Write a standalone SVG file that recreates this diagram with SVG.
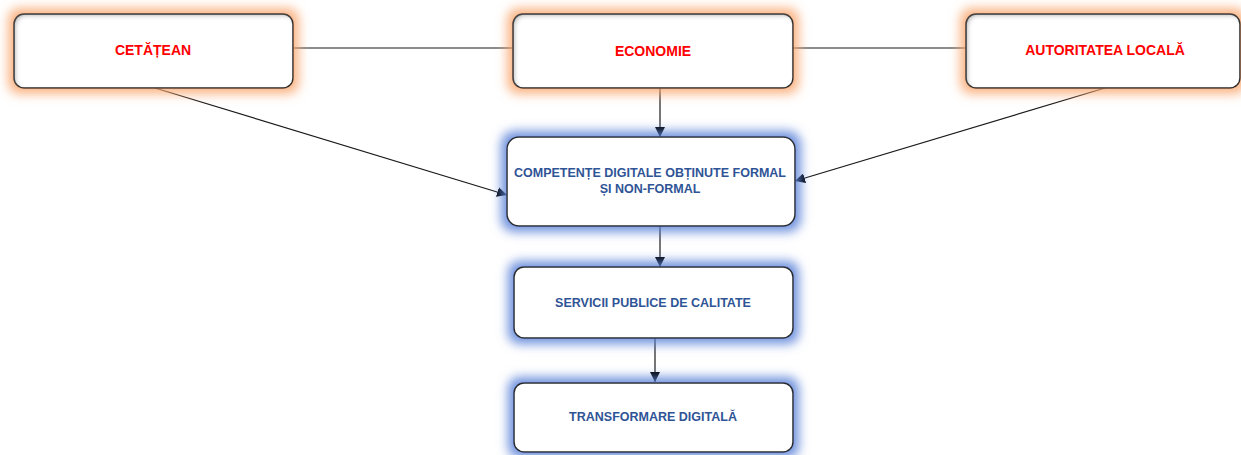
<svg xmlns="http://www.w3.org/2000/svg" width="1241" height="455" viewBox="0 0 1241 455">
  <style>
    .box { fill: #ffffff; stroke: #2b2b2b; stroke-width: 1.5; }
    .top { filter: url(#glowOrange); }
    .low { filter: url(#glowBlue); }
    .red { font-family: "Liberation Sans", Arial, sans-serif; font-weight: bold; font-size: 14px; fill: #ff0000; text-anchor: middle; }
    .blue { font-family: "Liberation Sans", Arial, sans-serif; font-weight: bold; font-size: 12.5px; fill: #2f5496; text-anchor: middle; }
    .link { stroke: #1a1a1a; stroke-width: 1.2; fill: none; }
    .arrow { marker-end: url(#head); }
  </style>
  <defs>
    <marker id="head" viewBox="0 0 10 10" refX="10" refY="5" markerWidth="10" markerHeight="10" markerUnits="userSpaceOnUse" orient="auto">
      <path d="M0,0 L10,5 L0,10 z" fill="#000"/>
    </marker>
    <!-- soft orange halo plus a grey inner shade along the edges -->
    <filter id="glowOrange" x="-15%" y="-45%" width="130%" height="190%">
      <feMorphology in="SourceAlpha" operator="dilate" radius="5" result="d"/>
      <feGaussianBlur in="d" stdDeviation="5.5" result="b"/>
      <feFlood flood-color="#f9a56c" flood-opacity="0.85"/>
      <feComposite in2="b" operator="in" result="glow"/>
      <feGaussianBlur in="SourceAlpha" stdDeviation="2.5" result="ib"/>
      <feOffset in="ib" dx="2" dy="2" result="ibo"/>
      <feComposite in="SourceAlpha" in2="ibo" operator="arithmetic" k2="1" k3="-1" result="edge"/>
      <feFlood flood-color="#555" flood-opacity="0.7"/>
      <feComposite in2="edge" operator="in" result="inner"/>
      <feMerge>
        <feMergeNode in="glow"/>
        <feMergeNode in="SourceGraphic"/>
        <feMergeNode in="inner"/>
      </feMerge>
    </filter>
    <!-- blue halo for the lower chain -->
    <filter id="glowBlue" x="-15%" y="-45%" width="130%" height="190%">
      <feMorphology in="SourceAlpha" operator="dilate" radius="5" result="d"/>
      <feGaussianBlur in="d" stdDeviation="5.5" result="b"/>
      <feFlood flood-color="#5b82d8" flood-opacity="0.9"/>
      <feComposite in2="b" operator="in" result="glow"/>
      <feMerge>
        <feMergeNode in="glow"/>
        <feMergeNode in="SourceGraphic"/>
      </feMerge>
    </filter>
  </defs>

  <rect width="1241" height="455" fill="#ffffff"/>

  <g id="connectors">
    <line class="link" x1="293" y1="48" x2="513" y2="48"/>
    <line class="link" x1="793" y1="48" x2="966" y2="48"/>
    <line class="link arrow" x1="155" y1="88" x2="507" y2="195"/>
    <line class="link arrow" x1="1105" y1="88" x2="795" y2="181"/>
    <line class="link arrow" x1="660" y1="88" x2="660" y2="137"/>
    <line class="link arrow" x1="660" y1="226" x2="660" y2="267"/>
    <line class="link arrow" x1="655" y1="338" x2="655" y2="382"/>
  </g>

  <g id="cetatean">
    <rect class="box top" x="14" y="14" width="279" height="74" rx="10"/>
    <text class="red" x="153" y="55">CETĂȚEAN</text>
  </g>
  <g id="economie">
    <rect class="box top" x="513" y="14" width="280" height="74" rx="10"/>
    <text class="red" x="653" y="55.5">ECONOMIE</text>
  </g>
  <g id="autoritatea">
    <rect class="box top" x="966" y="14" width="274" height="74" rx="10"/>
    <text class="red" x="1105" y="55">AUTORITATEA LOCALĂ</text>
  </g>
  <g id="competente">
    <rect class="box low" x="507" y="137" width="288" height="89" rx="12"/>
    <text class="blue" x="650" y="177">COMPETENȚE DIGITALE OBȚINUTE FORMAL</text>
    <text class="blue" x="650" y="193">ȘI NON-FORMAL</text>
  </g>
  <g id="servicii">
    <rect class="box low" x="514" y="267" width="279" height="71" rx="10"/>
    <text class="blue" x="653" y="307">SERVICII PUBLICE DE CALITATE</text>
  </g>
  <g id="transformare">
    <rect class="box low" x="514" y="383" width="279" height="69" rx="10"/>
    <text class="blue" x="653" y="421">TRANSFORMARE DIGITALĂ</text>
  </g>
</svg>
